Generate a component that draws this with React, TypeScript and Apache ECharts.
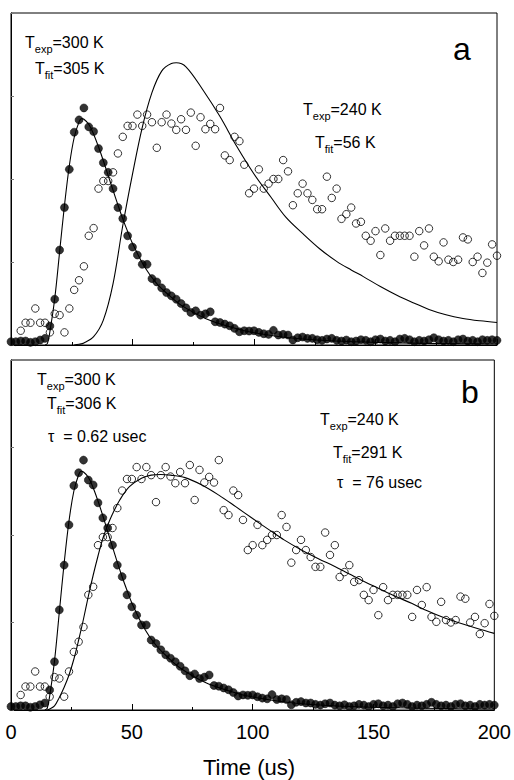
import React, { useEffect, useRef } from "react";
import * as echarts from "echarts";

const FONT = "'Liberation Sans', Arial, Helvetica, sans-serif";

// sampling of the measured traces (us)
const SAMPLE_STEP_US = 2;
const FILLED_START_US = 0;
const OPEN_START_US = 4;

// T_exp = 300 K, filled circles (normalized signal), t = 0, 2, 4 ... 200 us
const filled300 = [
  0.01, 0.01, 0.012, 0.012, 0.008, 0.01, 0.015, 0.02, 0.057, 0.138,
  0.286, 0.414, 0.529, 0.641, 0.678, 0.714, 0.657, 0.643, 0.592, 0.549,
  0.52, 0.471, 0.414, 0.381, 0.329, 0.295, 0.271, 0.243, 0.243, 0.2,
  0.19, 0.172, 0.158, 0.148, 0.138, 0.125, 0.112, 0.098, 0.103, 0.09,
  0.094, 0.1, 0.07, 0.068, 0.063, 0.058, 0.05, 0.04, 0.043, 0.042,
  0.043, 0.038, 0.034, 0.032, 0.044, 0.03, 0.032, 0.03, 0.015, 0.022,
  0.024, 0.02, 0.02, 0.016, 0.014, 0.018, 0.02, 0.014, 0.012, 0.015,
  0.01, 0.012, 0.016, 0.014, 0.01, 0.016, 0.018, 0.012, 0.014, 0.01,
  0.018, 0.02, 0.016, 0.01, 0.014, 0.012, 0.016, 0.022, 0.016, 0.012,
  0.014, 0.01, 0.016, 0.018, 0.012, 0.014, 0.01, 0.016, 0.014, 0.016,
  0.014,
];

// T_exp = 240 K, open circles, t = 4, 6 ... 200 us
const open240 = [
  0.043, 0.067, 0.067, 0.11, 0.067, 0.067, 0.038, 0.094, 0.09, 0.038,
  0.11, 0.166, 0.195, 0.237, 0.329, 0.352, 0.471, 0.494, 0.494, 0.52,
  0.577, 0.627, 0.66, 0.66, 0.694, 0.66, 0.694, 0.671, 0.594, 0.671,
  0.694, 0.667, 0.648, 0.68, 0.648, 0.7, 0.6, 0.686, 0.65, 0.666,
  0.65, 0.714, 0.571, 0.557, 0.627, 0.614, 0.543, 0.457, 0.471, 0.529,
  0.471, 0.486, 0.5, 0.5, 0.557, 0.523, 0.421, 0.457, 0.486, 0.457,
  0.437, 0.409, 0.409, 0.507, 0.443, 0.471, 0.38, 0.394, 0.414, 0.366,
  0.371, 0.329, 0.314, 0.343, 0.271, 0.351, 0.314, 0.329, 0.329, 0.329,
  0.329, 0.266, 0.343, 0.3, 0.351, 0.266, 0.252, 0.309, 0.257, 0.25,
  0.257, 0.324, 0.318, 0.25, 0.266, 0.217, 0.248, 0.303, 0.269,
];

// fit curves: [time us, signal]
const fit300: [number, number][] = [
  [14, 0], [15, 0.005], [16, 0.04], [18, 0.14], [20, 0.28], [22, 0.42],
  [24, 0.54], [26, 0.625], [28, 0.672], [29, 0.682], [30, 0.68], [32, 0.665],
  [34, 0.635], [36, 0.597], [38, 0.555], [40, 0.51], [42, 0.466], [44, 0.422],
  [46, 0.38], [48, 0.342], [50, 0.306], [55, 0.235], [60, 0.185], [65, 0.15],
  [70, 0.12], [80, 0.08], [90, 0.055], [100, 0.037], [120, 0.018], [150, 0.008],
  [200, 0.003],
];

const fitA240: [number, number][] = [
  [26, 0], [28, 0.002], [30, 0.006], [34, 0.025], [38, 0.075], [42, 0.185],
  [46, 0.36], [50, 0.515], [54, 0.655], [58, 0.76], [62, 0.825], [66, 0.848],
  [68, 0.85], [72, 0.838], [79, 0.768], [86, 0.688], [93, 0.597], [100, 0.515],
  [107, 0.445], [113, 0.386], [120, 0.336], [127, 0.29], [134, 0.252],
  [140, 0.226], [145, 0.206], [152, 0.176], [159, 0.149], [166, 0.126],
  [172, 0.107], [179, 0.091], [186, 0.08], [193, 0.073], [200, 0.068],
];

const fitB240: [number, number][] = [
  [15, 0], [16, 0.003], [18, 0.012], [20, 0.036], [22, 0.065], [24, 0.1],
  [26, 0.145], [28, 0.2], [30, 0.26], [32, 0.325], [34, 0.385], [36, 0.44],
  [38, 0.49], [40, 0.528], [42, 0.56], [45, 0.6], [49, 0.638], [54, 0.662],
  [58, 0.671], [62, 0.673], [66, 0.671], [72, 0.664], [79, 0.643], [86, 0.614],
  [93, 0.581], [100, 0.547], [107, 0.514], [113, 0.486], [120, 0.458],
  [127, 0.433], [134, 0.41], [138, 0.396], [145, 0.371], [152, 0.348],
  [159, 0.325], [166, 0.304], [172, 0.284], [179, 0.264], [186, 0.248],
  [193, 0.233], [200, 0.219],
];

const xTicks = [0, 50, 100, 150, 200];

const filledPts = filled300.map((v, i) => [FILLED_START_US + i * SAMPLE_STEP_US, v]);
const openPts = open240.map((v, i) => [OPEN_START_US + i * SAMPLE_STEP_US, v]);

const richStyles = {
  b: { fontSize: 16, fontFamily: FONT, lineHeight: 16, verticalAlign: "top", fill: "#000" },
  s: { fontSize: 11, fontFamily: FONT, lineHeight: 11, padding: [9, 0, 0, 0], verticalAlign: "top", fill: "#000" },
};

function label(x: number, yc: number, text: string) {
  return {
    type: "text",
    x,
    y: yc - 8,
    z: 10,
    style: {
      text,
      rich: richStyles,
      align: "left",
      verticalAlign: "top",
      fill: "#000",
      font: `16px ${FONT}`,
    },
  };
}

function big(x: number, yc: number, text: string) {
  return {
    type: "text",
    x,
    y: yc,
    z: 10,
    style: {
      text,
      fill: "#000",
      font: `32px ${FONT}`,
      align: "center",
      verticalAlign: "middle",
    },
  };
}

function xAxis(grid: number, showLabels: boolean) {
  return {
    type: "value",
    gridIndex: grid,
    min: xTicks[0],
    max: xTicks[xTicks.length - 1],
    interval: xTicks[1] - xTicks[0],
    axisLine: { show: true, lineStyle: { color: "#000", width: 1 } },
    axisTick: { show: true, inside: true, length: 6, lineStyle: { color: "#000" } },
    minorTick: { show: true, splitNumber: 2, length: 3, lineStyle: { color: "#000" } },
    splitLine: { show: false },
    axisLabel: {
      show: showLabels,
      color: "#000",
      fontSize: 20,
      fontFamily: FONT,
      margin: 12,
      formatter: (v: number) => (xTicks.includes(v) ? String(v) : ""),
    },
  };
}

function yAxis(grid: number) {
  return {
    type: "value",
    gridIndex: grid,
    min: 0,
    max: 1,
    interval: 0.25,
    axisLine: { show: true, lineStyle: { color: "#000", width: 1 } },
    axisTick: { show: true, inside: true, length: 3, lineStyle: { color: "#777" } },
    splitLine: { show: false },
    axisLabel: { show: false },
  };
}

function panelSeries(grid: number, fit240: [number, number][]) {
  return [
    {
      type: "scatter",
      xAxisIndex: grid,
      yAxisIndex: grid,
      data: openPts,
      symbol: "circle",
      symbolSize: 7.5,
      itemStyle: { color: "rgba(255,255,255,0)", borderColor: "#000", borderWidth: 1 },
      z: 2,
    },
    {
      type: "line",
      xAxisIndex: grid,
      yAxisIndex: grid,
      data: fit240,
      smooth: 0.35,
      symbol: "none",
      showSymbol: false,
      lineStyle: { color: "#000", width: 1.1 },
      z: 3,
    },
    {
      type: "line",
      xAxisIndex: grid,
      yAxisIndex: grid,
      data: fit300,
      smooth: 0.35,
      symbol: "none",
      showSymbol: false,
      lineStyle: { color: "#000", width: 1.1 },
      z: 3,
    },
    {
      type: "scatter",
      xAxisIndex: grid,
      yAxisIndex: grid,
      data: filledPts,
      symbol: "circle",
      symbolSize: 8,
      itemStyle: { color: "#000", borderColor: "#000", borderWidth: 0.6 },
      z: 4,
    },
  ];
}

export default function App() {
  const ref = useRef<HTMLDivElement>(null);
  useEffect(() => {
    if (!ref.current) return;
    const chart = echarts.init(ref.current, null, { renderer: "svg" });
    const option = {
      animation: false,
      backgroundColor: "#fff",
      grid: [
        { left: 11, top: 13, width: 486, height: 332, show: true, borderColor: "#000", borderWidth: 1, backgroundColor: "transparent" },
        { left: 11, top: 360, width: 486, height: 350, show: true, borderColor: "#000", borderWidth: 1, backgroundColor: "transparent" },
      ],
      xAxis: [xAxis(0, false), xAxis(1, true)],
      yAxis: [yAxis(0), yAxis(1)],
      series: [...panelSeries(0, fitA240), ...panelSeries(1, fitB240)],
      graphic: [
        label(25, 42.5, "{b|T}{s|exp}{b|=300 K}"),
        label(35, 68, "{b|T}{s|fit}{b|=305 K}"),
        big(462, 49, "a"),
        label(303, 109, "{b|T}{s|exp}{b|=240 K}"),
        label(315, 142.5, "{b|T}{s|fit}{b|=56 K}"),
        label(37, 379, "{b|T}{s|exp}{b|=300 K}"),
        label(47, 403, "{b|T}{s|fit}{b|=306 K}"),
        label(48, 436.5, "{b|τ  = 0.62 usec}"),
        big(470, 392, "b"),
        label(320, 419, "{b|T}{s|exp}{b|=240 K}"),
        label(333, 452, "{b|T}{s|fit}{b|=291 K}"),
        label(337, 482, "{b|τ  = 76 usec}"),
        {
          type: "text",
          x: 249,
          y: 767,
          style: {
            text: "Time (us)",
            fill: "#000",
            font: `22px ${FONT}`,
            align: "center",
            verticalAlign: "middle",
          },
        },
      ],
    };
    chart.setOption(option as any);
    return () => chart.dispose();
  }, []);
  return (
    <div
      ref={ref}
      style={{ position: "absolute", left: 0, top: 0, width: 514, height: 780, background: "#fff" }}
    />
  );
}
